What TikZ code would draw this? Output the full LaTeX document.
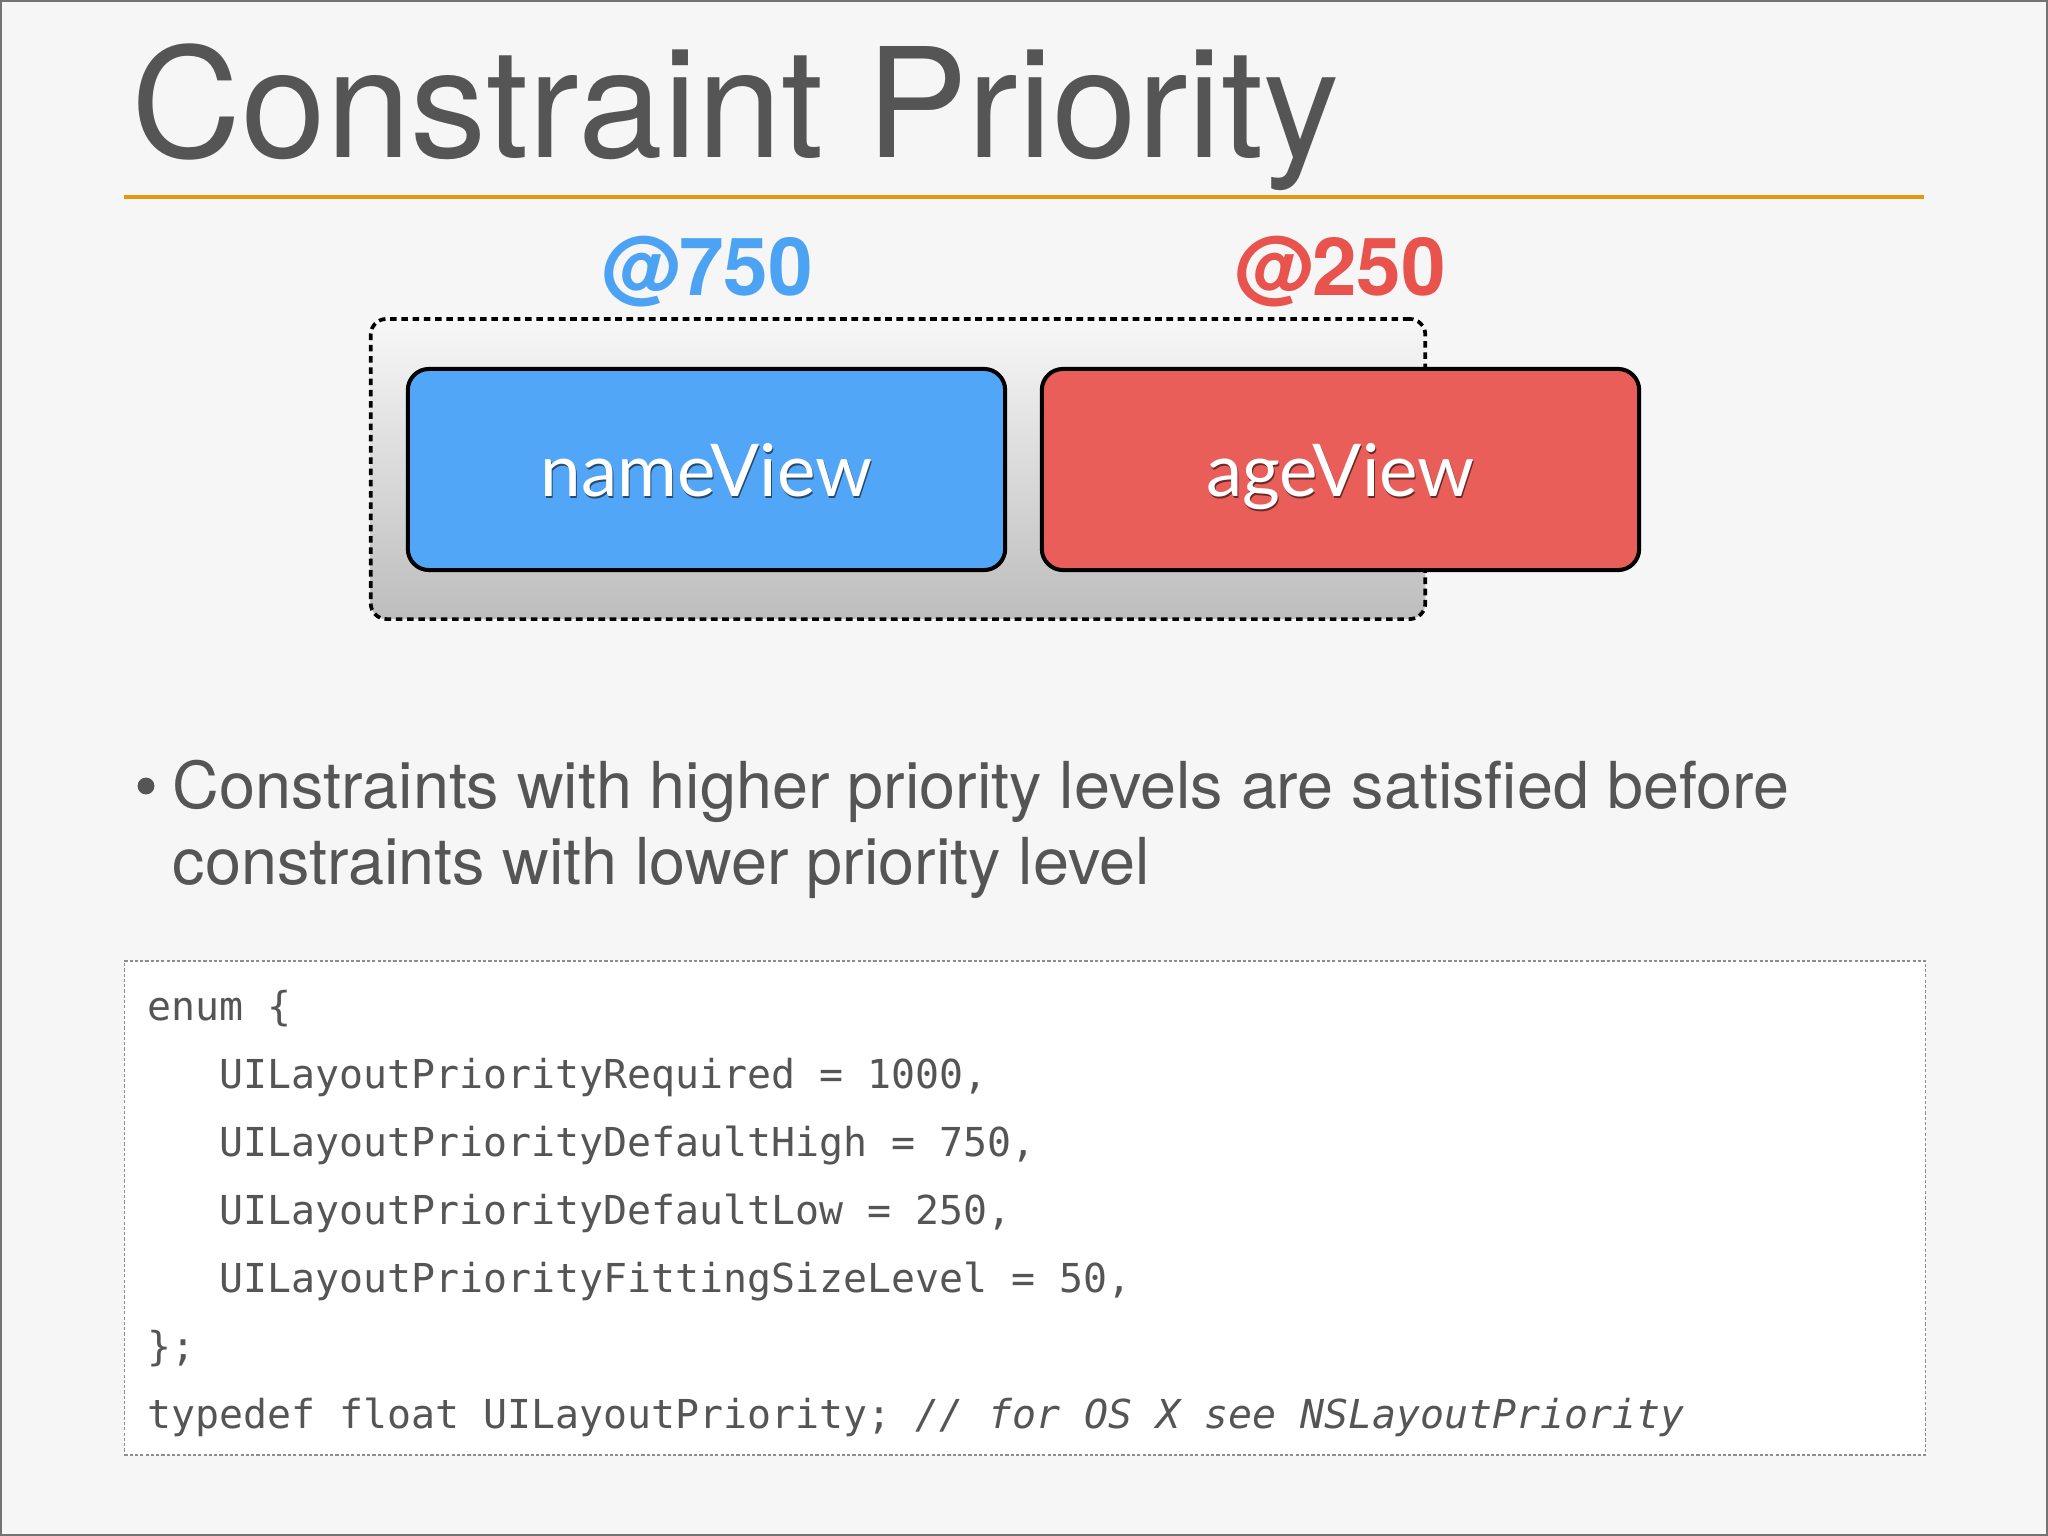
\documentclass[tikz,border=0pt]{standalone}
\usepackage{fontspec}
\setmainfont{TeX Gyre Heros}
\newfontfamily\labelfont{Lato}
\newfontfamily\codefont{DejaVu Sans Mono}
\definecolor{bgc}{HTML}{F6F6F6}
\definecolor{txt}{HTML}{555555}
\definecolor{rulec}{HTML}{E2980F}
\definecolor{bluelbl}{HTML}{4DA3F3}
\definecolor{redlbl}{HTML}{E9534D}
\definecolor{bluebox}{HTML}{52A6F8}
\definecolor{redbox}{HTML}{EA5E59}
\definecolor{codeborder}{HTML}{8E8E8E}
\newcommand\shtxt[2]{\rlap{\raisebox{-0.8pt}{\hspace*{0.3pt}\textcolor{#2}{#1}}}#1}
\tikzset{
  container/.style={draw=black, dash pattern=on 1.9pt off 1.3pt, line width=1.05pt,
    rounded corners=4.5pt, top color=white!97!black, bottom color=black!26, inner sep=0pt},
  viewbox/.style={draw=black, line width=1.15pt, rounded corners=6pt,
    minimum width=5.97cm, minimum height=2.01cm, inner sep=0pt, text=white,
    font=\labelfont\fontsize{20.7}{24}\selectfont, text depth=0pt},
  prio/.style={anchor=base, inner sep=0pt, font=\bfseries\fontsize{22.8}{26}\selectfont},
  bodytext/.style={anchor=base west, inner sep=0pt, text=txt, font=\fontsize{18.4}{22}\selectfont},
  codeline/.style={anchor=base west, inner sep=0pt, text=txt, font=\codefont\fontsize{11.34}{13}\selectfont},
}
\begin{document}
\begin{tikzpicture}[x=0.01cm, y=-0.01cm]
\fill[bgc] (0,0) rectangle (2048,1536);
\useasboundingbox (0,0) rectangle (2048,1536);
\draw[black!55, line width=0.6pt] (1,1) rectangle (2047,1535);

% title
\node[anchor=base west, inner sep=0pt, text=txt, font=\fontsize{43.3}{50}\selectfont] (title) at (131,157) {Constraint Priority};
\draw[rulec, line width=1.15pt] (124,197) -- (1924,197);

% priorities
\node[prio, text=bluelbl] (p750) at (707,295) {@750};
\node[prio, text=redlbl] (p250) at (1340,295) {@250};

% container and views
\node[container, minimum width=10.54cm, minimum height=3cm] (group) at (898,469) {};
\node[viewbox, fill=bluebox] (nameview) at (706.5,469.5) {\shtxt{nameView}{bluebox!45!black}};
\node[viewbox, fill=redbox] (ageview) at (1340.5,469.5) {\shtxt{ageView}{redbox!45!black}};

% bullet text
\node[circle, fill=txt, minimum size=4.8pt, inner sep=0pt] (bullet) at (146,786) {};
\node[bodytext] (line1) at (172,808) {Constraints with higher priority levels are satisfied before};
\node[bodytext] (line2) at (172,884) {constraints with lower priority level};

% code box
\node[draw=codeborder, dash pattern=on 0.9pt off 0.6pt, line width=0.4pt, fill=white,
  minimum width=18cm, minimum height=4.94cm, inner sep=0pt] (codebox) at (1025,1208) {};
\node[codeline] (c1) at (147,1020) {enum \{};
\node[codeline] (c2) at (219,1088) {UILayoutPriorityRequired = 1000,};
\node[codeline] (c3) at (219,1156) {UILayoutPriorityDefaultHigh = 750,};
\node[codeline] (c4) at (219,1224) {UILayoutPriorityDefaultLow = 250,};
\node[codeline] (c5) at (219,1292) {UILayoutPriorityFittingSizeLevel = 50,};
\node[codeline] (c6) at (147,1360) {\};};
\node[codeline] (c7) at (147,1428) {typedef float UILayoutPriority; {\itshape // for OS X see NSLayoutPriority}};
\end{tikzpicture}
\end{document}
